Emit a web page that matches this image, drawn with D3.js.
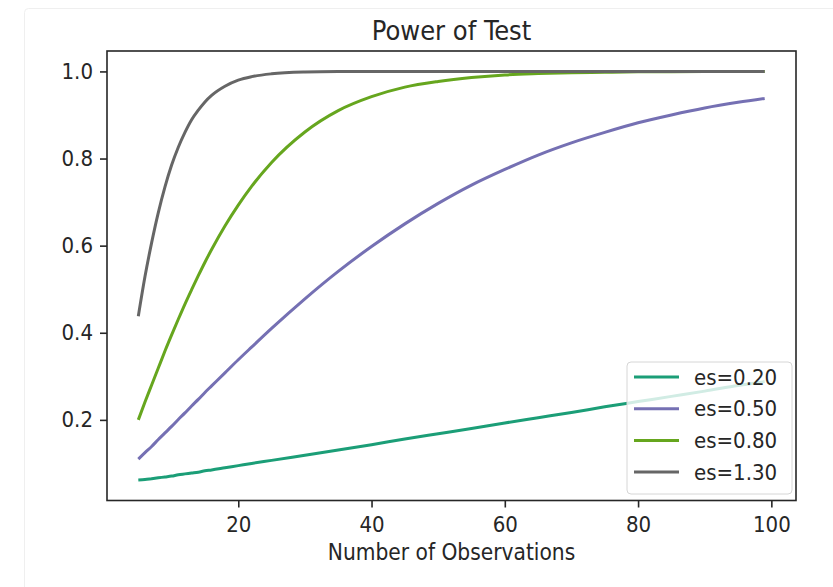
<!DOCTYPE html>
<html lang="en">
<head>
  <meta charset="UTF-8">
  <title>Power of Test</title>
  <script src="https://d3js.org/d3.v7.min.js"></script>
  <style>
    body { margin: 0; background: #fff; }
    text { font-family: "DejaVu Sans Condensed", "DejaVu Sans", sans-serif; font-stretch: condensed; fill: #262626; }
    .tick text { font-size: 22px; }
    .line { fill: none; stroke-width: 3px; stroke-linejoin: round; }
  </style>
</head>
<body>
  <svg id="chart"></svg>

  <script>
    // number of observations (per group) where power was read
    const nobs = [5, 6, 7, 8, 9, 10, 11, 12, 13, 14, 15, 16, 18, 20, 22, 25, 30, 35, 40,
                  45, 50, 55, 60, 65, 70, 75, 80, 85, 90, 95, 99];

    const power020 = [0.062, 0.063, 0.065, 0.067, 0.069, 0.071, 0.074, 0.076, 0.078, 0.080, 0.083, 0.085,
                      0.090, 0.095, 0.100, 0.107, 0.119, 0.131, 0.143, 0.156, 0.168, 0.180, 0.193, 0.205,
                      0.217, 0.230, 0.242, 0.254, 0.266, 0.279, 0.288];
    const power050 = [0.110, 0.125, 0.139, 0.155, 0.170, 0.185, 0.201, 0.216, 0.232, 0.247, 0.263, 0.278,
                      0.308, 0.338, 0.367, 0.410, 0.478, 0.541, 0.598, 0.650, 0.697, 0.739, 0.775, 0.808,
                      0.836, 0.860, 0.882, 0.900, 0.916, 0.929, 0.938];
    const power080 = [0.200, 0.241, 0.280, 0.319, 0.358, 0.395, 0.431, 0.466, 0.499, 0.531, 0.562, 0.591,
                      0.645, 0.693, 0.736, 0.791, 0.861, 0.910, 0.942, 0.964, 0.977, 0.986, 0.992, 0.995,
                      0.997, 0.998, 0.999, 0.9994, 0.9996, 0.9998, 0.9999];
    const power130 = [0.438, 0.529, 0.607, 0.676, 0.735, 0.785, 0.826, 0.860, 0.889, 0.911, 0.930, 0.945,
                      0.966, 0.980, 0.988, 0.9945, 0.9986, 0.9997, 0.9999, 1, 1, 1, 1, 1,
                      1, 1, 1, 1, 1, 1, 1];

    const seriesNames = ["es=0.20", "es=0.50", "es=0.80", "es=1.30"];
    const seriesValues = [power020, power050, power080, power130];
    const seriesColors = ["#1b9e77", "#7570b3", "#66a61e", "#666666"];

    const xTicks = [20, 40, 60, 80, 100];
    const yTicks = [0.2, 0.4, 0.6, 0.8, 1.0];

    const width = 833, height = 587;
    const margin = { top: 51, right: 37, bottom: 86.5, left: 107 };

    const svg = d3.select("#chart").attr("width", width).attr("height", height);

    // faint frame of the notebook output cell
    svg.append("rect")
      .attr("x", 24.5).attr("y", 8.5)
      .attr("width", 900).attr("height", 900)
      .attr("rx", 4)
      .attr("fill", "none")
      .attr("stroke", "#efefef");

    const x = d3.scaleLinear().domain([0.3, 103.7]).range([margin.left, width - margin.right]);
    const y = d3.scaleLinear().domain([0.0149, 1.0469]).range([height - margin.bottom, margin.top]);

    const line = d3.line()
      .x((d, i) => x(nobs[i]))
      .y(d => y(d))
      .curve(d3.curveMonotoneX);

    svg.append("g").selectAll("path")
      .data(seriesValues)
      .enter().append("path")
      .attr("class", "line")
      .attr("stroke", (d, i) => seriesColors[i])
      .attr("d", line);

    // axes
    const xAxis = svg.append("g")
      .attr("transform", `translate(0,${height - margin.bottom})`)
      .call(d3.axisBottom(x).tickValues(xTicks).tickSize(7).tickPadding(7).tickFormat(d3.format("d")));
    const yAxis = svg.append("g")
      .attr("transform", `translate(${margin.left},0)`)
      .call(d3.axisLeft(y).tickValues(yTicks).tickSize(7).tickPadding(7).tickFormat(d3.format(".1f")));

    [xAxis, yAxis].forEach(g => {
      g.select(".domain").remove();
      g.selectAll(".tick line").attr("stroke", "#262626").attr("stroke-width", 1.6);
    });
    xAxis.selectAll(".tick text").attr("dy", "0.8em");

    // spines
    svg.append("rect")
      .attr("x", margin.left).attr("y", margin.top)
      .attr("width", width - margin.left - margin.right)
      .attr("height", height - margin.top - margin.bottom)
      .attr("fill", "none")
      .attr("stroke", "#262626")
      .attr("stroke-width", 1.6);

    // title and axis label
    svg.append("text")
      .attr("x", (margin.left + width - margin.right) / 2)
      .attr("y", 40)
      .attr("text-anchor", "middle")
      .style("font-size", "27px")
      .text("Power of Test");

    svg.append("text")
      .attr("x", (margin.left + width - margin.right) / 2)
      .attr("y", 560)
      .attr("text-anchor", "middle")
      .style("font-size", "22.5px")
      .text("Number of Observations");

    // legend
    const legend = svg.append("g").attr("transform", "translate(627,362)");
    legend.append("rect")
      .attr("width", 165).attr("height", 132)
      .attr("rx", 4)
      .attr("fill", "#fff").attr("fill-opacity", 0.8)
      .attr("stroke", "#d6d6d6");

    const item = legend.selectAll(".item")
      .data(seriesNames)
      .enter().append("g")
      .attr("transform", (d, i) => `translate(0,${15 + i * 31.7})`);
    item.append("line")
      .attr("x1", 7).attr("x2", 52)
      .attr("stroke", (d, i) => seriesColors[i])
      .attr("stroke-width", 3);
    item.append("text")
      .attr("x", 67).attr("dy", "0.35em")
      .style("font-size", "22px")
      .text(d => d);
  </script>
</body>
</html>
